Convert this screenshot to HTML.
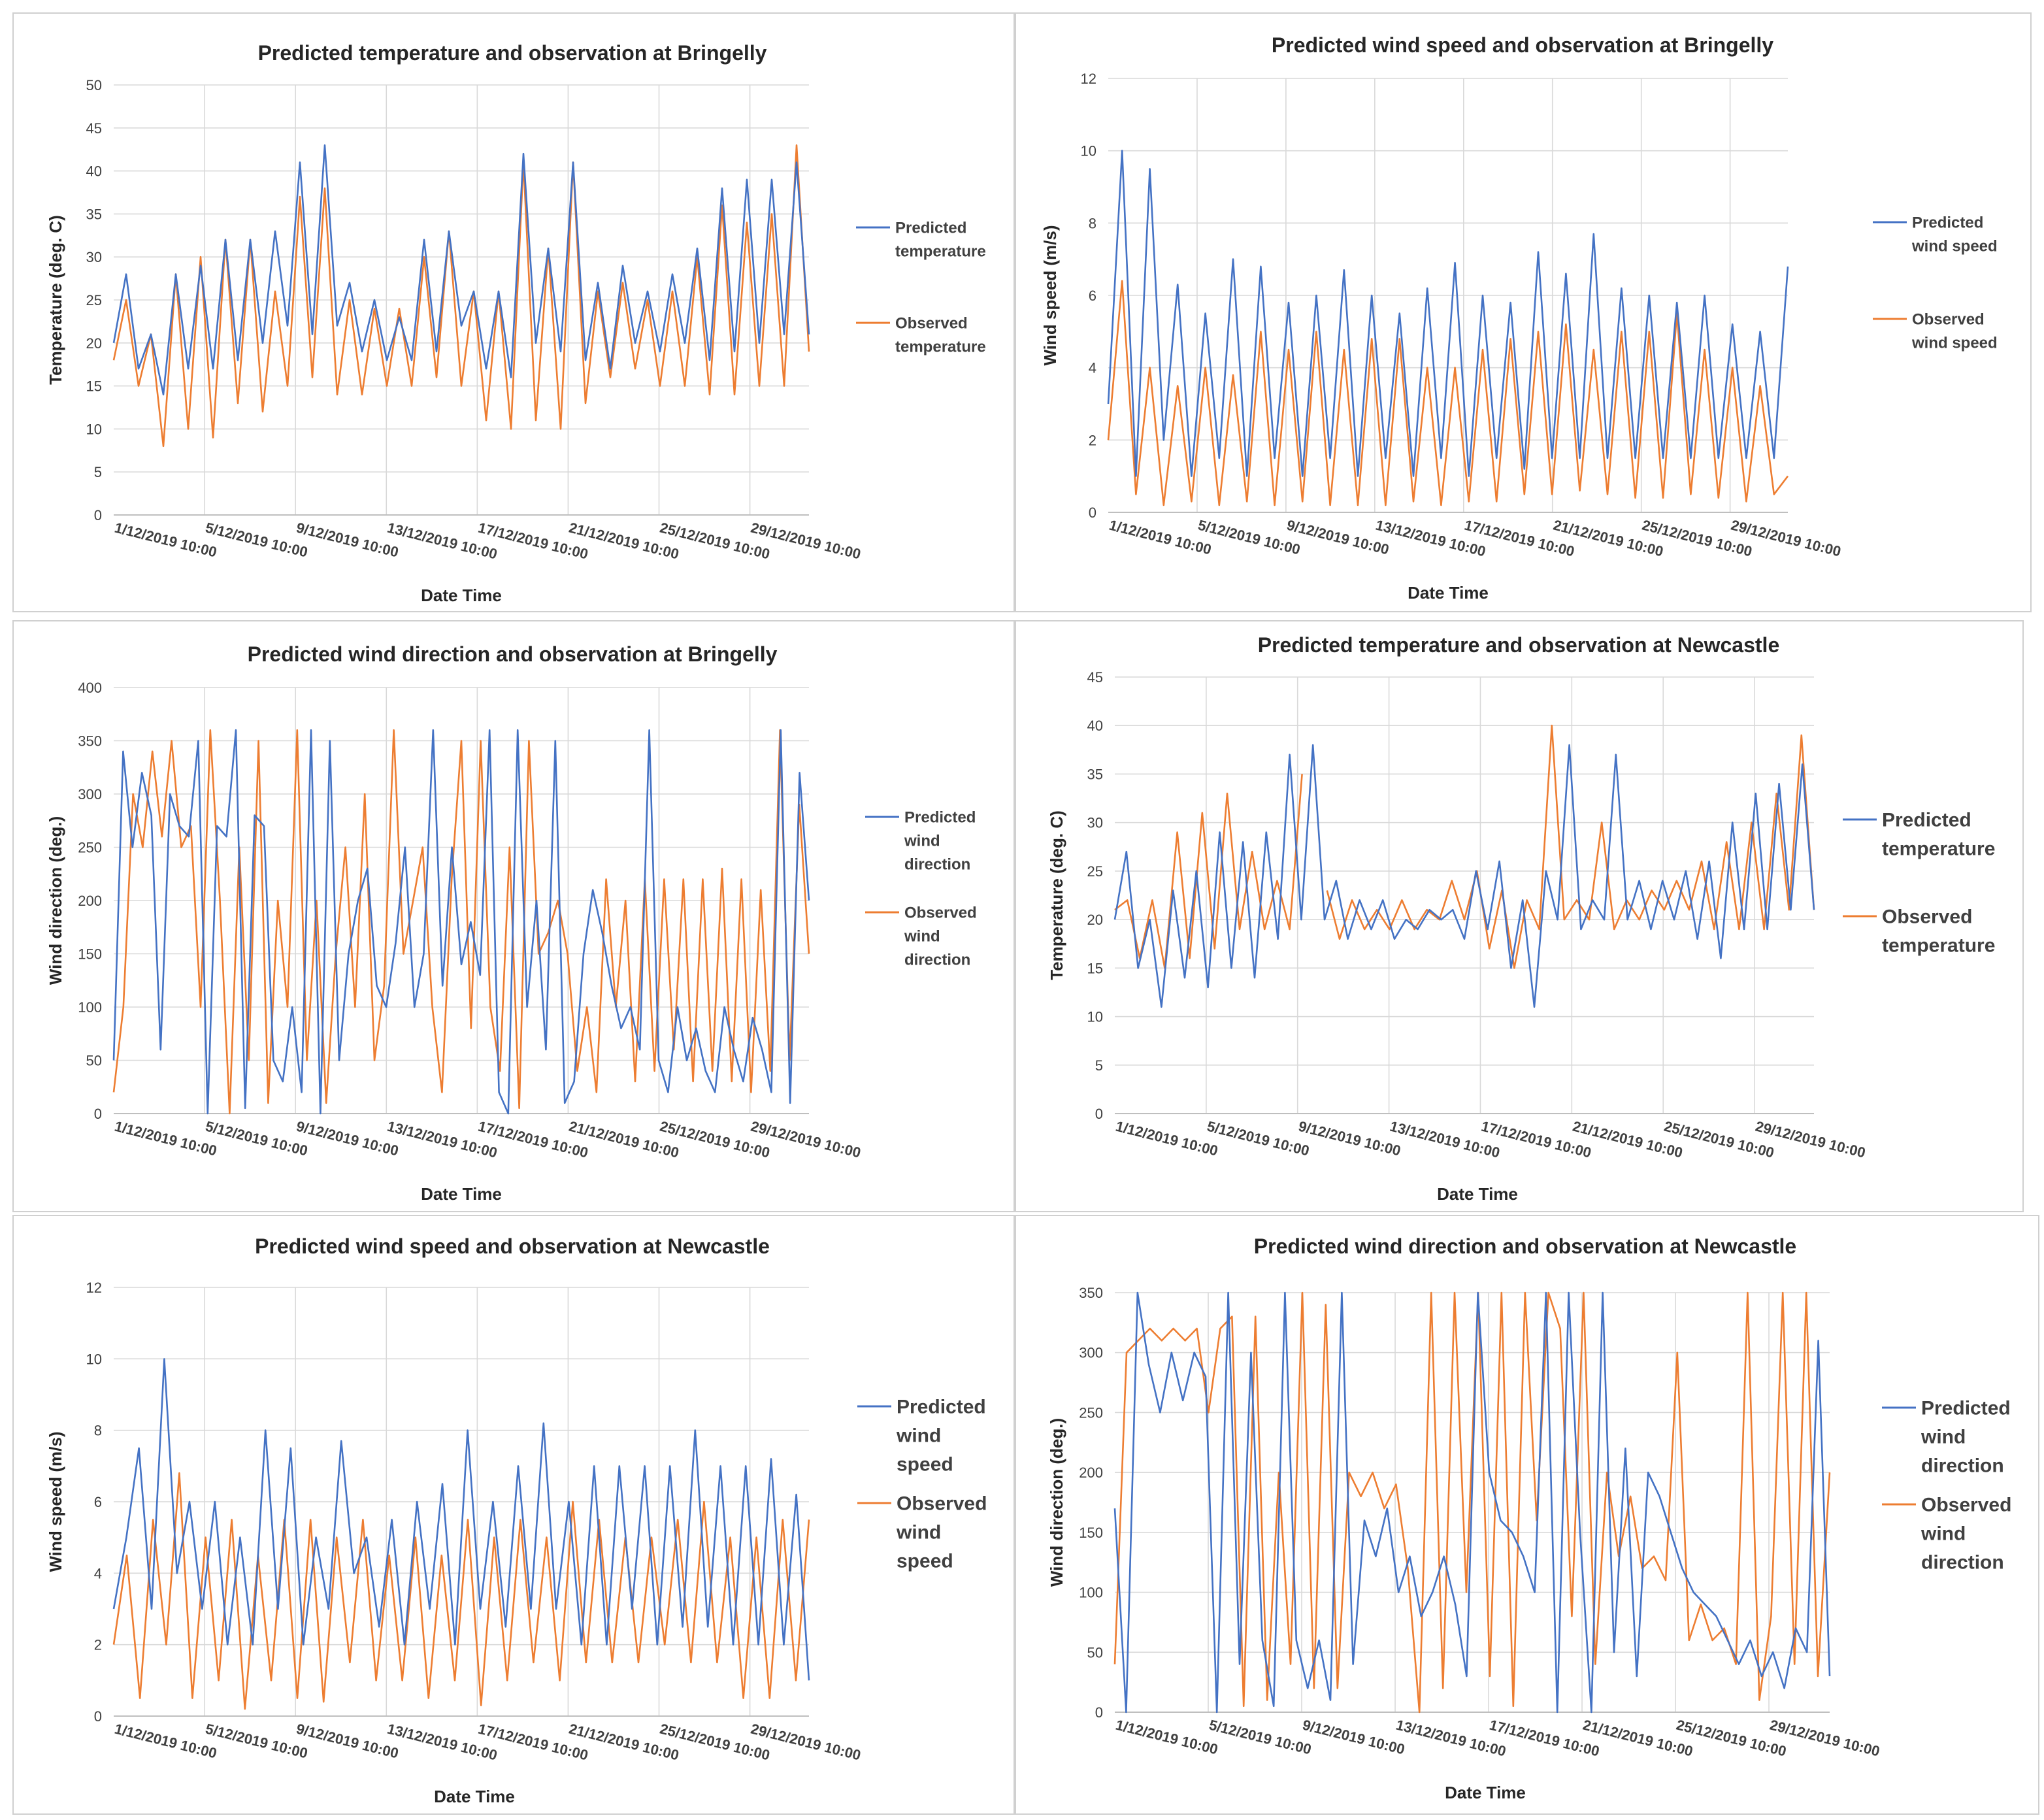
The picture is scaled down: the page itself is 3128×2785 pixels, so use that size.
<!DOCTYPE html>
<html><head><meta charset="utf-8"><style>
html,body{margin:0;padding:0;background:#fff;}
svg{display:block;font-family:"Liberation Sans",sans-serif;}
</style></head><body>
<svg id="fig" width="3128" height="2785" viewBox="0 0 1564 1392.5" xmlns="http://www.w3.org/2000/svg"></svg>
<script>
// ---- Data (daily high/low samples) ----
const dateLabels = ["1/12/2019 10:00","5/12/2019 10:00","9/12/2019 10:00","13/12/2019 10:00","17/12/2019 10:00","21/12/2019 10:00","25/12/2019 10:00","29/12/2019 10:00"];

const tempBrPred = [20,28,17,21,14,28,17,29,17,32,18,32,20,33,22,41,21,43,22,27,19,25,18,23,18,32,19,33,22,26,17,26,16,42,20,31,19,41,18,27,17,29,20,26,19,28,20,31,18,38,19,39,20,39,21,41,21];
const tempBrObs = [18,25,15,21,8,28,10,30,9,32,13,32,12,26,15,37,16,38,14,25,14,24,15,24,15,30,16,33,15,26,11,26,10,41,11,31,10,41,13,26,16,27,17,25,15,26,15,30,14,36,14,34,15,35,15,43,19];

const wsBrPred = [3,10,1,9.5,2,6.3,1,5.5,1.5,7,1,6.8,1.5,5.8,1,6,1.5,6.7,1,6,1.5,5.5,1,6.2,1.5,6.9,1,6,1.5,5.8,1.2,7.2,1.5,6.6,1.5,7.7,1.5,6.2,1.5,6,1.5,5.8,1.5,6,1.5,5.2,1.5,5,1.5,6.8];
const wsBrObs = [2,6.4,0.5,4,0.2,3.5,0.3,4,0.2,3.8,0.3,5,0.2,4.5,0.3,5,0.2,4.5,0.2,4.8,0.2,4.8,0.3,4,0.2,4,0.3,4.5,0.3,4.8,0.5,5,0.5,5.2,0.6,4.5,0.5,5,0.4,5,0.4,5.5,0.5,4.5,0.4,4,0.3,3.5,0.5,1];

const wdBrPred = [50,340,250,320,280,60,300,270,260,350,0,270,260,360,5,280,270,50,30,100,20,360,0,350,50,150,200,230,120,100,160,250,100,150,360,120,250,140,180,130,360,20,0,360,100,200,60,350,10,30,150,210,170,120,80,100,60,360,50,20,100,50,80,40,20,100,60,30,90,60,20,360,10,320,200];
const wdBrObs = [20,100,300,250,340,260,350,250,270,100,360,200,0,250,50,350,10,200,100,360,50,200,10,150,250,100,300,50,120,360,150,200,250,100,20,220,350,80,350,100,40,250,5,350,150,170,200,150,40,100,20,220,100,200,30,220,40,220,60,220,30,220,40,230,30,220,20,210,40,360,50,290,150];

const tempNcPred = [20,27,15,20,11,23,14,25,13,29,15,28,14,29,18,37,20,38,20,24,18,22,19,22,18,20,19,21,20,21,18,25,19,26,15,22,11,25,20,38,19,22,20,37,20,24,19,24,20,25,18,26,16,30,19,33,19,34,21,36,21];
const tempNcObs = [21,22,16,22,15,29,16,31,17,33,19,27,19,24,19,35,null,23,18,22,19,21,19,22,19,21,20,24,20,25,17,23,15,22,19,40,20,22,20,30,19,22,20,23,21,24,21,26,19,28,19,30,19,33,21,39,21];

const wsNcPred = [3,5,7.5,3,10,4,6,3,6,2,5,2,8,3,7.5,2,5,3,7.7,4,5,2.5,5.5,2,6,3,6.5,2,8,3,6,2.5,7,3,8.2,3,6,2,7,2,7,3,7,2,7,2.5,8,2.5,7,2,7,2,7.2,2,6.2,1];
const wsNcObs = [2,4.5,0.5,5.5,2,6.8,0.5,5,1,5.5,0.2,4.5,1,5.5,0.5,5.5,0.4,5,1.5,5.5,1,4.5,1,5,0.5,4.5,1,5.5,0.3,5,1,5.5,1.5,5,1,6,1.5,5.5,1.5,5,1.5,5,2,5.5,1.5,6,1.5,5,0.5,5,0.5,5.5,1,5.5];

const wdNcPred = [170,0,360,290,250,300,260,300,280,0,360,40,300,60,5,350,60,20,60,10,360,40,160,130,170,100,130,80,100,130,90,30,360,200,160,150,130,100,360,0,350,150,0,350,50,220,30,200,180,150,120,100,90,80,60,40,60,30,50,20,70,50,310,30];
const wdNcObs = [40,300,310,320,310,320,310,320,250,320,330,5,330,10,200,40,350,20,340,20,200,180,200,170,190,120,0,360,20,360,100,350,30,360,5,360,160,360,320,80,360,40,200,130,180,120,130,110,300,60,90,60,70,40,360,10,80,360,40,350,30,200];

const svg = document.getElementById('fig');
const NS = 'http://www.w3.org/2000/svg';
function mk(tag, attrs, parent){const e=document.createElementNS(NS,tag);for(const k in attrs)e.setAttribute(k,attrs[k]);(parent||svg).appendChild(e);return e;}

const panels = [
 {name:'temp-bringelly',box:[10,10,766,458],plot:[87,65,619,394],ymax:50,ystep:5,title:'Predicted temperature and observation at Bringelly',ylab:'Temperature (deg. C)',pred:tempBrPred,obs:tempBrObs,leg:[655,174,247],lp:['Predicted','temperature'],lo:['Observed','temperature'],fs:12,tx:392,ty:40},
 {name:'windspeed-bringelly',box:[777,10,777,458],plot:[848,60,1368,392],ymax:12,ystep:2,title:'Predicted wind speed and observation at Bringelly',ylab:'Wind speed (m/s)',pred:wsBrPred,obs:wsBrObs,leg:[1433,170,244],lp:['Predicted','wind speed'],lo:['Observed','wind speed'],fs:12,tx:1165,ty:34},
 {name:'winddir-bringelly',box:[10,475,766,452],plot:[87,526,619,852],ymax:400,ystep:50,title:'Predicted wind direction and observation at Bringelly',ylab:'Wind direction (deg.)',pred:wdBrPred,obs:wdBrObs,leg:[662,625,698],lp:['Predicted','wind','direction'],lo:['Observed','wind','direction'],fs:12,tx:392,ty:500},
 {name:'temp-newcastle',box:[777,475,771,452],plot:[853,518,1388,852],ymax:45,ystep:5,title:'Predicted temperature and observation at Newcastle',ylab:'Temperature (deg. C)',pred:tempNcPred,obs:tempNcObs,leg:[1410,627,701],lp:['Predicted','temperature'],lo:['Observed','temperature'],fs:15,tx:1162,ty:493},
 {name:'windspeed-newcastle',box:[10,930,766,458],plot:[87,985,619,1313],ymax:12,ystep:2,title:'Predicted wind speed and observation at Newcastle',ylab:'Wind speed (m/s)',pred:wsNcPred,obs:wsNcObs,leg:[656,1076,1150],lp:['Predicted','wind','speed'],lo:['Observed','wind','speed'],fs:15,tx:392,ty:953},
 {name:'winddir-newcastle',box:[777,930,783,458],plot:[853,989,1400,1310],ymax:350,ystep:50,title:'Predicted wind direction and observation at Newcastle',ylab:'Wind direction (deg.)',pred:wdNcPred,obs:wdNcObs,leg:[1440,1077,1151],lp:['Predicted','wind','direction'],lo:['Observed','wind','direction'],fs:15,tx:1167,ty:953}
];
const SPAN = 30.6;

panels.forEach(p=>{
  const g = mk('g',{});
  
  
  const [bx,by,bw,bh]=p.box;
  const fr = mk('rect',{x:bx,y:by,width:bw,height:bh,fill:'#fff',stroke:'#d0d0d0','stroke-width':1},g);
  
  
  const [x0,y0,x1,y1]=p.plot;
  const xs = d => x0 + d/SPAN*(x1-x0);
  const ys = v => y1 - Math.min(v,p.ymax)/p.ymax*(y1-y0);
  // horizontal gridlines + y ticks
  for(let v=0; v<=p.ymax+1e-9; v+=p.ystep){
    const gl = mk('line',{x1:x0,x2:x1,y1:ys(v),y2:ys(v),stroke:'#d9d9d9','stroke-width':0.8},g);
    
    
    const t = mk('text',{x:x0-9,y:ys(v)+4,'text-anchor':'end','font-size':11,fill:'#404040'},g);
    t.textContent = v;
    
    
  }
  // vertical gridlines + x labels
  dateLabels.forEach((lab,i)=>{
    const x = xs(i*4);
    if(i>0){
      const vl = mk('line',{x1:x,x2:x,y1:y0,y2:y1,stroke:'#d9d9d9','stroke-width':0.8},g);
      
      
    }
    const t = mk('text',{x:0,y:0,'font-size':11,'font-weight':'bold',fill:'#404040',transform:`translate(${x},${y1+13}) rotate(14)`},g);
    t.textContent = lab;
    
    
  });
  const ax = mk('line',{x1:x0,x2:x1,y1:y1,y2:y1,stroke:'#bfbfbf','stroke-width':1},g);
  
  
  // series
  [[p.obs,'#ED7D31','observed-series'],[p.pred,'#4472C4','predicted-series']].forEach(([arr,col,nm])=>{
    let d='', pen=false;
    arr.forEach((v,i)=>{
      if(v===null){pen=false;return;}
      const x=xs(i/(arr.length-1)*SPAN), y=ys(v);
      d += (pen?'L':'M')+x.toFixed(1)+' '+y.toFixed(1)+' ';
      pen=true;
    });
    const pl = mk('path',{d:d,fill:'none',stroke:col,'stroke-width':1.3,'stroke-linejoin':'round'},g);
    
    
  });
  // title
  const tt = mk('text',{x:p.tx,y:p.ty+6,'text-anchor':'middle','font-size':16,'font-weight':'bold',fill:'#262626'},g);
  tt.textContent = p.title;
  
  
  // axis titles
  const xt = mk('text',{x:(x0+x1)/2+(p.fs>12?10:0),y:y1+66,'text-anchor':'middle','font-size':13,'font-weight':'bold',fill:'#262626'},g);
  xt.textContent = 'Date Time';
  
  
  const yt = mk('text',{x:0,y:0,'text-anchor':'middle','font-size':13,'font-weight':'bold',fill:'#262626',transform:`translate(${x0-40},${(y0+y1)/2}) rotate(-90)`},g);
  yt.textContent = p.ylab;
  
  
  // legend
  const [lx,ly1,ly2]=p.leg;
  const lh = p.fs>12?22:18;
  [[ly1,'#4472C4',p.lp,'legend-predicted'],[ly2,'#ED7D31',p.lo,'legend-observed']].forEach(([ly,col,lines,nm])=>{
    const lg = mk('g',{},g);
    
    
    mk('line',{x1:lx,x2:lx+26,y1:ly,y2:ly,stroke:col,'stroke-width':1.5},lg);
    lines.forEach((s,k)=>{
      const t = mk('text',{x:lx+30,y:ly+p.fs*0.35+k*lh,'font-size':p.fs,'font-weight':'bold',fill:'#404040'},lg);
      t.textContent = s;
    });
  });
});
</script>
</body></html>
